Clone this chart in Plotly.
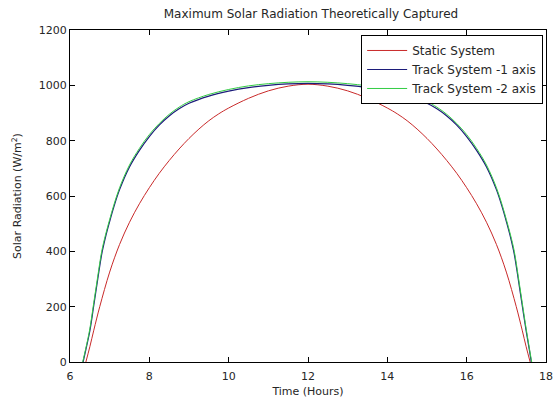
import plotly.graph_objects as go

# Static (fixed-panel) system
static_t = [6.40, 6.50, 6.60, 6.75, 7.00, 7.25, 7.50, 7.75, 8.00, 8.25, 8.50, 8.75,
            9.00, 9.25, 9.50, 9.75, 10.00, 10.50, 11.00, 11.50, 12.00,
            12.50, 13.00, 13.50, 14.00, 14.25, 14.50, 14.75, 15.00, 15.25, 15.50,
            15.75, 16.00, 16.25, 16.50, 16.75, 17.00, 17.25, 17.40, 17.50, 17.60]
static_w = [0, 55, 115, 200, 325, 425, 505, 572, 630, 682, 728, 770,
            808, 842, 872, 897, 918, 953, 980, 997, 1004,
            997, 980, 953, 918, 897, 872, 842, 808, 770, 728,
            682, 630, 572, 505, 425, 325, 200, 115, 55, 0]

# Single-axis tracking system
track1_t = [6.33, 6.40, 6.50, 6.60, 6.70, 6.80, 6.90, 7.00, 7.10, 7.25, 7.50, 7.75,
            8.00, 8.25, 8.50, 8.75, 9.00, 9.50, 10.00, 10.50, 11.00, 11.50, 12.00,
            12.50, 13.00, 13.50, 14.00, 14.50, 15.00, 15.25, 15.50, 15.75, 16.00,
            16.25, 16.50, 16.75, 16.90, 17.00, 17.10, 17.20, 17.30, 17.40, 17.50,
            17.58, 17.63]
track1_w = [0, 45, 112, 205, 300, 390, 454, 508, 558, 623, 705, 765,
            815, 856, 889, 915, 935, 961, 979, 992, 1000, 1005, 1007,
            1005, 1000, 992, 979, 961, 935, 915, 889, 856, 815,
            765, 705, 623, 558, 508, 454, 390, 300, 205, 112,
            45, 0]

# Dual-axis tracking system
track2_t = [6.32, 6.40, 6.50, 6.60, 6.70, 6.80, 6.90, 7.00, 7.10, 7.25, 7.50, 7.75,
            8.00, 8.25, 8.50, 8.75, 9.00, 9.50, 10.00, 10.50, 11.00, 11.50, 12.00,
            12.50, 13.00, 13.50, 14.00, 14.50, 15.00, 15.25, 15.50, 15.75, 16.00,
            16.25, 16.50, 16.75, 16.90, 17.00, 17.10, 17.20, 17.30, 17.40, 17.50,
            17.58, 17.64]
track2_w = [0, 50, 120, 215, 310, 400, 462, 515, 565, 630, 712, 772,
            822, 862, 895, 921, 941, 967, 985, 998, 1006, 1011, 1013,
            1011, 1006, 998, 985, 967, 941, 921, 895, 862, 822,
            772, 712, 630, 565, 515, 462, 400, 310, 215, 120,
            50, 0]

x_ticks = [6, 8, 10, 12, 14, 16, 18]
y_ticks = [0, 200, 400, 600, 800, 1000, 1200]

FONT = "DejaVu Sans"
TXT = "#262626"

fig = go.Figure()
fig.add_trace(go.Scatter(x=static_t, y=static_w, mode="lines", name="Static System",
                         line=dict(color="#c92a2a", width=1, shape="spline", smoothing=1)))
fig.add_trace(go.Scatter(x=track1_t, y=track1_w, mode="lines", name="Track System -1 axis",
                         line=dict(color="#1c1c7a", width=1.2, shape="spline", smoothing=1)))
fig.add_trace(go.Scatter(x=track2_t, y=track2_w, mode="lines", name="Track System -2 axis",
                         line=dict(color="#33cc44", width=1, shape="spline", smoothing=1)))

axis_common = dict(showgrid=False, zeroline=False, showline=True, linecolor="black",
                   linewidth=1, mirror="ticks", ticks="inside", ticklen=5,
                   tickcolor="black", tickfont=dict(family=FONT, size=11, color=TXT))

fig.update_layout(
    width=560, height=403,
    margin=dict(l=70, r=7, t=30, b=38),
    paper_bgcolor="white", plot_bgcolor="white",
    title=dict(text="Maximum Solar Radiation Theoretically Captured",
               font=dict(family=FONT, size=12, color=TXT),
               x=(311 / 560), xanchor="center", yref="container",
               y=1 - 14 / 403, yanchor="middle"),
    xaxis=dict(range=[6, 18], tickvals=x_ticks, ticktext=[str(v) for v in x_ticks],
               ticklabelstandoff=4,
               title=dict(text="Time (Hours)", font=dict(family=FONT, size=11, color=TXT),
                          standoff=5),
               **axis_common),
    yaxis=dict(range=[0, 1200], tickvals=y_ticks, ticktext=[str(v) for v in y_ticks],
               title=dict(text="Solar Radiation (W/m<sup>2</sup>)",
                          font=dict(family=FONT, size=11, color=TXT), standoff=14),
               **axis_common),
    legend=dict(x=0.994, xanchor="right", y=0.985, yanchor="top",
                bgcolor="white", bordercolor="black", borderwidth=1,
                font=dict(family=FONT, size=12, color=TXT),
                tracegroupgap=0, itemwidth=40),
    showlegend=True,
)

fig.write_html("out.html")
